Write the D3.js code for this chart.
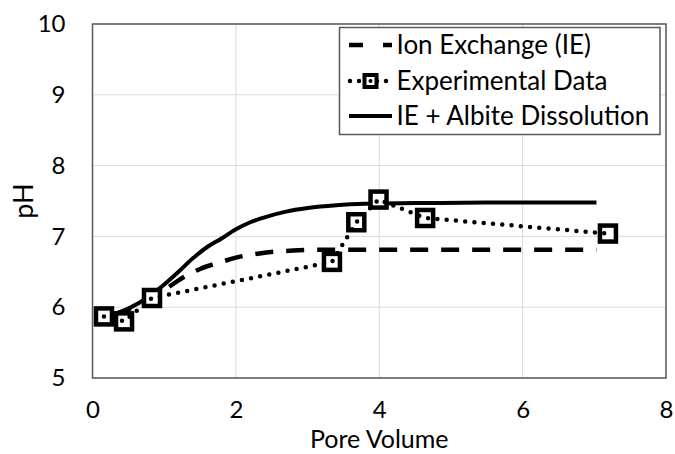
<!DOCTYPE html>
<html>
<head>
<meta charset="utf-8">
<script src="https://cdn.jsdelivr.net/npm/d3@7"></script>
<style>
    body { margin: 0; background: #fff; }
    svg { display: block; font-family: Lato, "Open Sans", sans-serif; }
</style>
</head>
<body>
<svg id="chart" width="675" height="454"></svg>
<script>
// Experimental data
const expX = [0.16, 0.44, 0.83, 3.34, 3.68, 3.99, 4.64, 7.19];
const expY = [5.87, 5.80, 6.13, 6.64, 7.20, 7.52, 7.26, 7.04];

// Ion exchange model
const ieX = [0.3, 0.5, 0.8, 1.0, 1.2, 1.5, 1.8, 2.0, 2.4, 2.8, 3.2, 4.0, 5.0, 6.0, 7.03];
const ieY = [5.9, 5.97, 6.12, 6.24, 6.38, 6.54, 6.64, 6.70, 6.77, 6.80, 6.81, 6.81, 6.81, 6.81, 6.81];

// IE + albite dissolution model
const albX = [0.3, 0.5, 0.8, 1.0, 1.2, 1.4, 1.6, 1.8, 2.0, 2.2, 2.4, 2.7, 3.0, 3.4, 3.8, 4.5, 5.5, 7.03];
const albY = [5.9, 5.98, 6.16, 6.32, 6.50, 6.69, 6.85, 6.97, 7.10, 7.20, 7.27, 7.35, 7.40, 7.44, 7.46, 7.47, 7.48, 7.48];

const xTicks = [0, 2, 4, 6, 8];
const yTicks = [5, 6, 7, 8, 9, 10];
const legendLabels = ["Ion Exchange (IE)", "Experimental Data", "IE + Albite Dissolution"];

const svg = d3.select("#chart");
const plot = { left: 92.5, right: 666, top: 24, bottom: 378 };

const x = d3.scaleLinear().domain([0, 8]).range([plot.left, plot.right]);
const y = d3.scaleLinear().domain([5, 10]).range([plot.bottom, plot.top]);

// Gridlines
svg.append("g")
    .selectAll("line")
    .data(xTicks)
    .join("line")
    .attr("x1", d => x(d)).attr("x2", d => x(d))
    .attr("y1", plot.top).attr("y2", plot.bottom)
    .attr("stroke", "#d9d9d9").attr("stroke-width", 1);

svg.append("g")
    .selectAll("line")
    .data(yTicks)
    .join("line")
    .attr("x1", plot.left).attr("x2", plot.right)
    .attr("y1", d => y(d)).attr("y2", d => y(d))
    .attr("stroke", "#d9d9d9").attr("stroke-width", 1);

// Plot border
svg.append("rect")
    .attr("x", plot.left).attr("y", plot.top)
    .attr("width", plot.right - plot.left)
    .attr("height", plot.bottom - plot.top)
    .attr("fill", "none")
    .attr("stroke", "#595959")
    .attr("stroke-width", 1.5);

// Axes (labels only)
const xAxis = svg.append("g")
    .attr("transform", `translate(0,${plot.bottom})`)
    .call(d3.axisBottom(x).tickValues(xTicks).tickFormat(d3.format("d")).tickSize(0).tickPadding(23));
const yAxis = svg.append("g")
    .attr("transform", `translate(${plot.left},0)`)
    .call(d3.axisLeft(y).tickValues(yTicks).tickFormat(d3.format("d")).tickSize(0).tickPadding(27));
[xAxis, yAxis].forEach(a => {
    a.select(".domain").remove();
    a.selectAll("text")
        .attr("font-family", "Lato, sans-serif")
        .attr("font-size", 24)
        .attr("fill", "#000");
});

svg.append("text")
    .attr("x", x(4)).attr("y", 448)
    .attr("text-anchor", "middle")
    .attr("font-size", 25)
    .text("Pore Volume");

svg.append("text")
    .attr("transform", `translate(33,${(plot.top + plot.bottom) / 2}) rotate(-90)`)
    .attr("text-anchor", "middle")
    .attr("font-size", 27)
    .text("pH");

// Lines
const line = d3.line().x(d => x(d[0])).y(d => y(d[1])).curve(d3.curveMonotoneX);
const straight = d3.line().x(d => x(d[0])).y(d => y(d[1]));

const styles = {
    ie: { width: 4.5, dash: "18 13", cap: "butt" },
    exp: { width: 4.5, dash: "0 9.3", cap: "round" },
    alb: { width: 4, dash: null, cap: "butt" },
};

svg.append("path")
    .datum(d3.zip(albX, albY))
    .attr("d", line)
    .attr("fill", "none").attr("stroke", "#000")
    .attr("stroke-width", styles.alb.width);

svg.append("path")
    .datum(d3.zip(ieX, ieY))
    .attr("d", line)
    .attr("fill", "none").attr("stroke", "#000")
    .attr("stroke-width", styles.ie.width)
    .attr("stroke-dasharray", styles.ie.dash);

svg.append("g")
    .selectAll("rect")
    .data(d3.zip(expX, expY))
    .join("rect")
    .attr("x", d => x(d[0]) - 8)
    .attr("y", d => y(d[1]) - 8)
    .attr("width", 16).attr("height", 16)
    .attr("fill", "#fff")
    .attr("stroke", "#000")
    .attr("stroke-width", 4.5);

svg.append("path")
    .datum(d3.zip(expX, expY))
    .attr("d", straight)
    .attr("fill", "none").attr("stroke", "#000")
    .attr("stroke-width", styles.exp.width)
    .attr("stroke-linecap", styles.exp.cap)
    .attr("stroke-dasharray", styles.exp.dash);

// Legend
const legend = svg.append("g");
legend.append("rect")
    .attr("x", 339.5).attr("y", 27.5)
    .attr("width", 320.5).attr("height", 107)
    .attr("fill", "#fff")
    .attr("stroke", "#595959")
    .attr("stroke-width", 1.5);

const rowY = [45, 81, 116];
const keys = ["ie", "exp", "alb"];
keys.forEach((k, i) => {
    const s = styles[k];
    const ly = rowY[i];
    legend.append("line")
        .attr("x1", k === "exp" ? 350 : 349).attr("x2", k === "exp" ? 391 : 392)
        .attr("y1", ly).attr("y2", ly)
        .attr("stroke", "#000")
        .attr("stroke-width", s.width)
        .attr("stroke-linecap", s.cap)
        .attr("stroke-dasharray", k === "ie" ? "14 20 10" : k === "exp" ? "0 9" : null);
    if (k === "exp") {
        legend.append("rect")
            .attr("x", 370.5 - 6).attr("y", ly - 6)
            .attr("width", 12).attr("height", 12)
            .attr("fill", "#fff").attr("stroke", "#000").attr("stroke-width", 4);
        legend.append("circle")
            .attr("cx", 370.5).attr("cy", ly).attr("r", 2).attr("fill", "#000");
    }
    legend.append("text")
        .attr("x", 396.5).attr("y", ly)
        .attr("dy", "0.35em")
        .attr("font-size", 26)
        .text(legendLabels[i]);
});
</script>
</body>
</html>
